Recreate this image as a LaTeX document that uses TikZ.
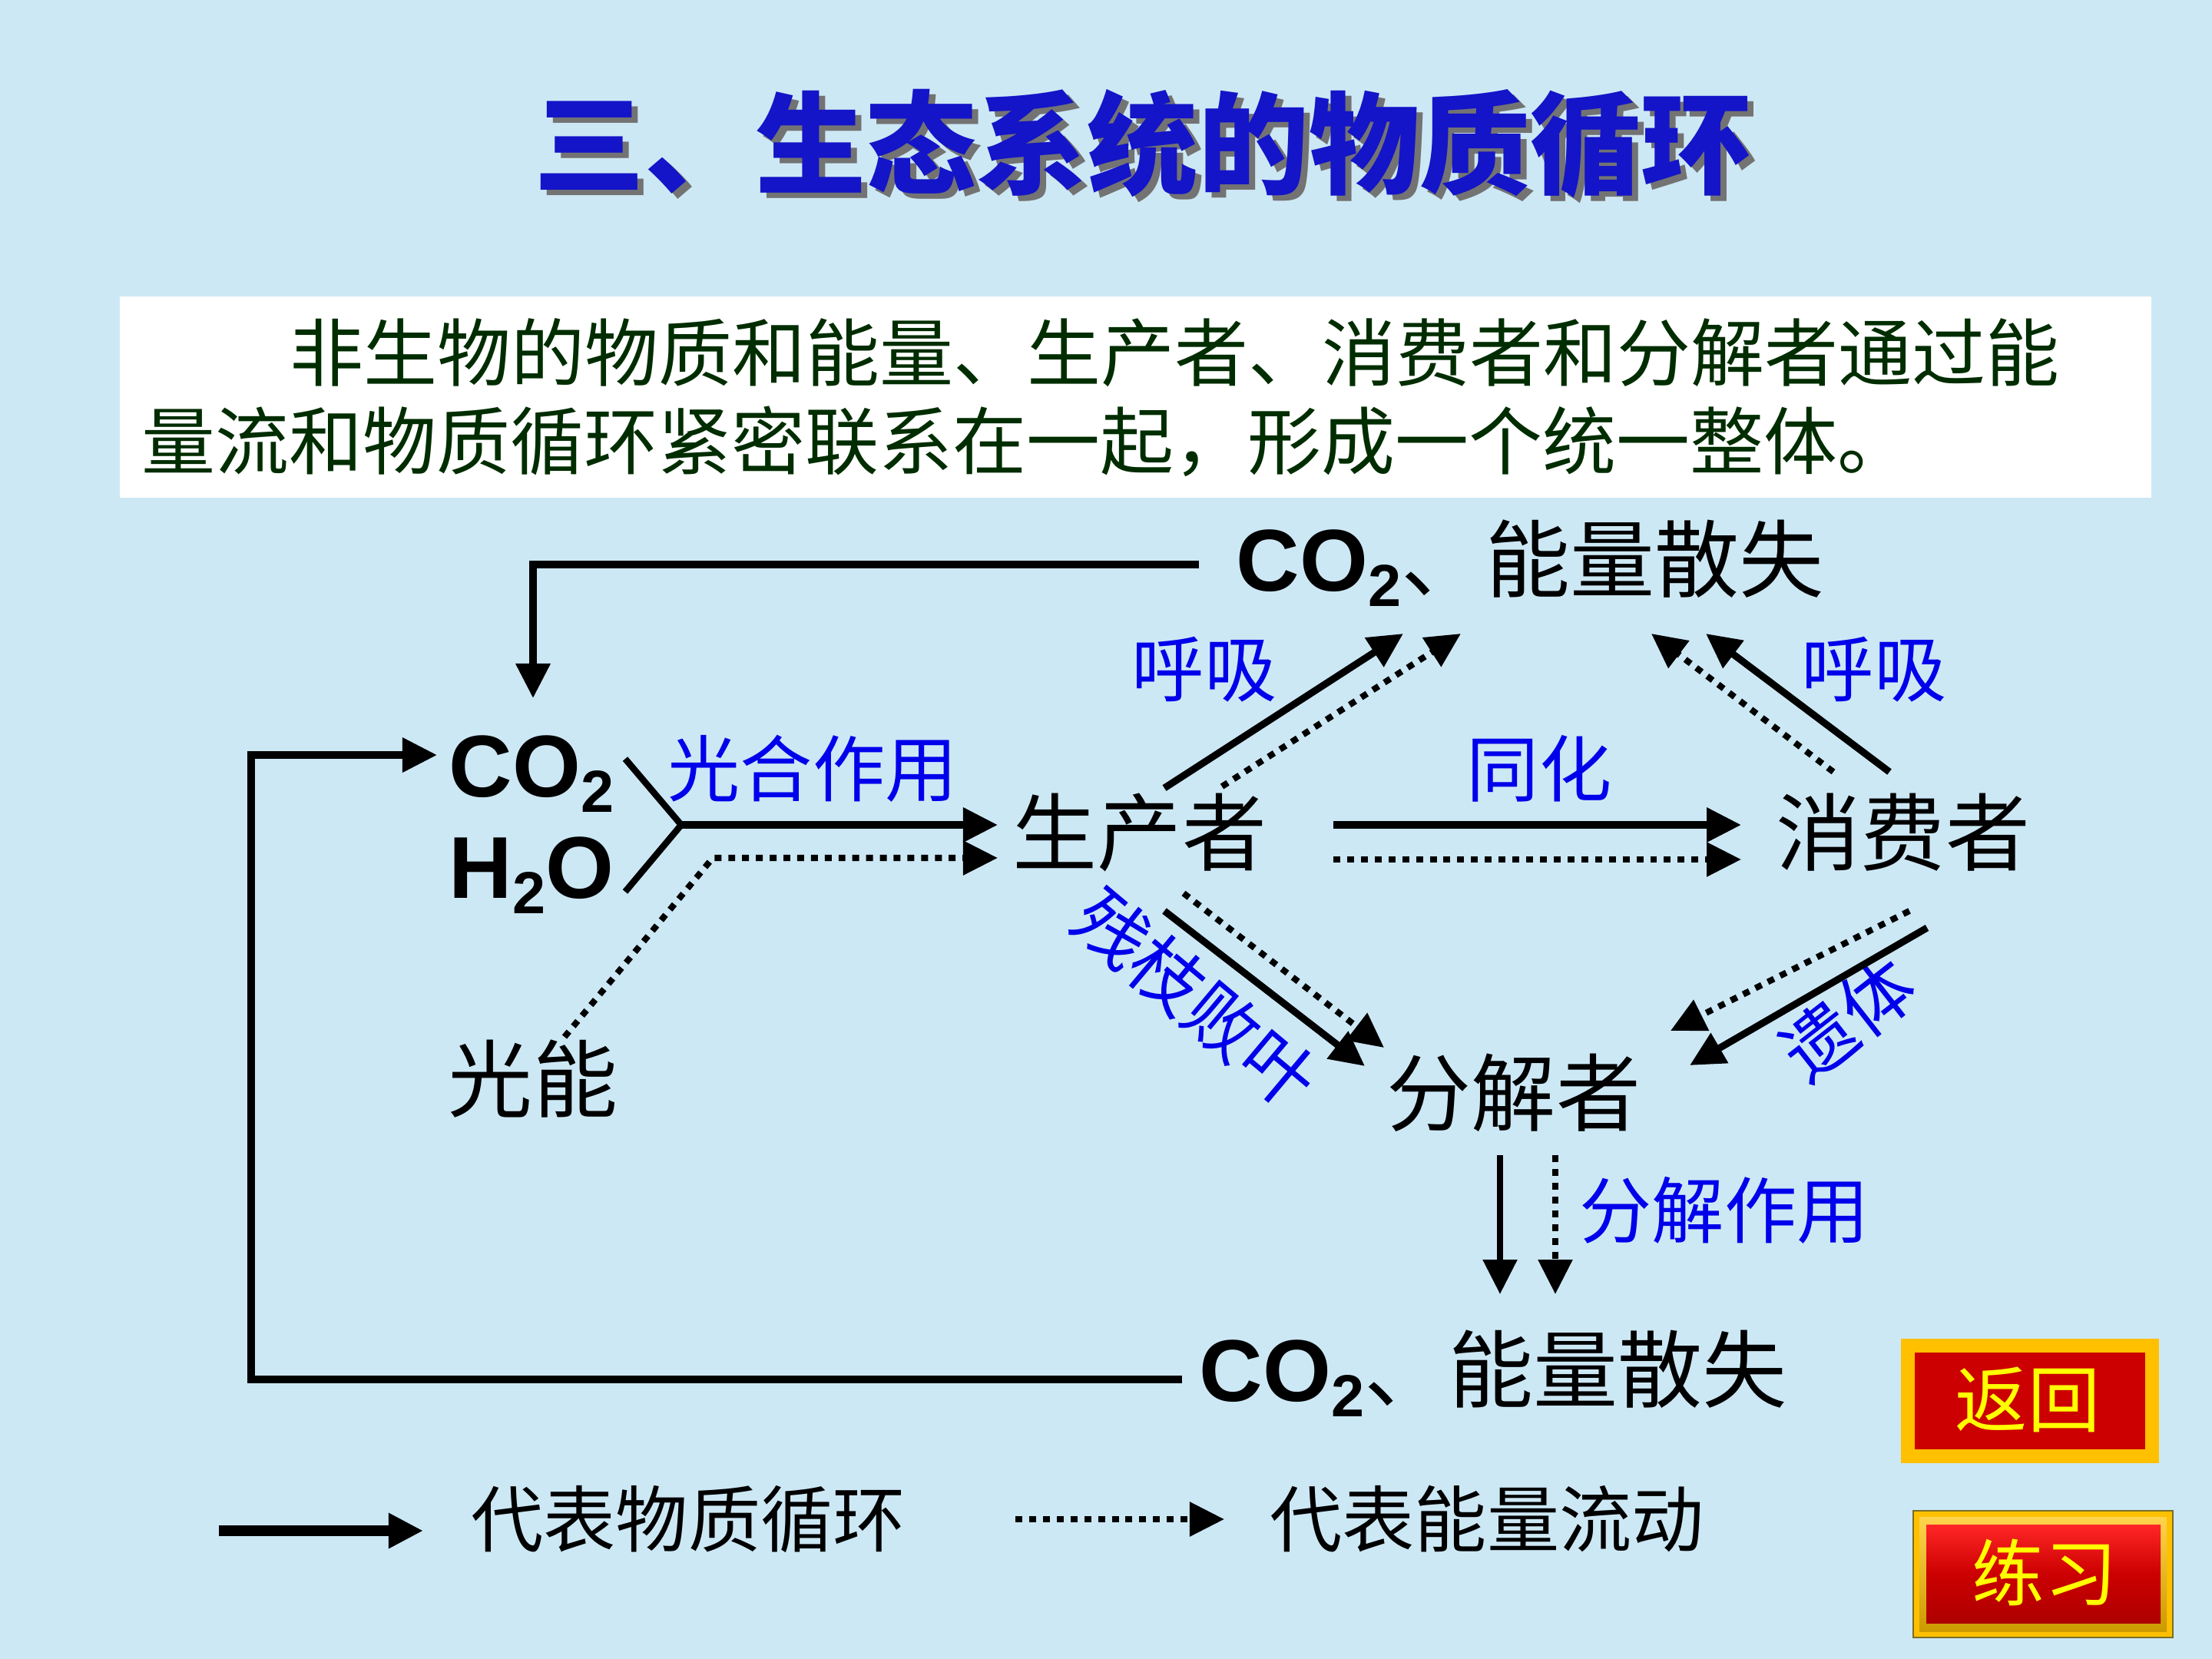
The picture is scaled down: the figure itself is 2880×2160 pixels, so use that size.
\documentclass[tikz,border=0pt]{standalone}
\usepackage{fontspec}
\setmainfont{Noto Sans CJK SC}
\newfontfamily\lsb{Liberation Sans}
\usetikzlibrary{arrows.meta}
\definecolor{bgblue}{RGB}{205,232,245}
\definecolor{titleblue}{RGB}{20,20,200}
\definecolor{lblue}{RGB}{0,0,235}
\definecolor{dkgreen}{RGB}{0,45,0}
\definecolor{btnyel}{RGB}{255,192,0}
\definecolor{btnred}{RGB}{204,0,0}
\definecolor{txtyel}{RGB}{255,255,0}
\definecolor{btnolive}{RGB}{120,110,40}
\newcommand\sizeB{\fontsize{31.3pt}{33pt}\selectfont}
\newcommand\sizeL{\fontsize{26.8pt}{28pt}\selectfont}
\newcommand\sizeT{\fontsize{27.3pt}{30pt}\selectfont}
\newcommand\sizeH{\fontsize{41pt}{44pt}\selectfont}
\newcommand\cotwo{{\lsb\bfseries\fontsize{32.5pt}{34pt}\selectfont CO\raisebox{-5.7pt}{\fontsize{22pt}{22pt}\selectfont 2}}}
\newcommand\htwoo{{\lsb\bfseries\fontsize{32.5pt}{34pt}\selectfont H\raisebox{-5.7pt}{\fontsize{22pt}{22pt}\selectfont 2}O}}
\tikzset{
  mat/.style={line width=2.6pt, -{Triangle[length=12.8pt,width=12.3pt]}},
  ene/.style={line width=2.3pt, dash pattern=on 2.55pt off 2.55pt, -{Triangle[length=12.8pt,width=12.3pt]}},
  plainline/.style={line width=2.4pt},
  lbl/.style={text=lblue, font=\sizeL, inner sep=0pt},
  big/.style={font=\sizeB, inner sep=0pt},
  legtext/.style={font=\sizeL, inner sep=0pt},
}
\begin{document}
\begin{tikzpicture}[x=0.01cm,y=-0.01cm]
\useasboundingbox (0,0) rectangle (2880,2160);
\fill[bgblue] (0,0) rectangle (2880,2160);

% title
\node[font=\sizeH\bfseries, text=black!55, inner sep=0pt] (titleS) at (1496,194) {三、生态系统的物质循环};
\node[font=\sizeH\bfseries, text=titleblue, inner sep=0pt] (title) at (1488,187) {三、生态系统的物质循环};

% text box
\fill[white] (156,386) rectangle (2801,648);
\node[font=\sizeT, text=dkgreen, anchor=west, inner sep=0pt] (line1) at (377,459) {非生物的物质和能量、生产者、消费者和分解者通过能};
\node[font=\sizeT, text=dkgreen, anchor=west, inner sep=0pt] (line2) at (184,575) {量流和物质循环紧密联系在一起，形成一个统一整体。};

% main nodes
\node[anchor=base west, inner sep=0pt] (topco) at (1609,769) {\cotwo{\sizeB 、能量散失}};
\node[anchor=base west, inner sep=0pt] (botco) at (1561,1824) {\cotwo{\sizeB 、能量散失}};
\node[anchor=base west, inner sep=0pt] (co2) at (584,1037) {\cotwo};
\node[anchor=base west, inner sep=0pt] (h2o) at (584,1169) {\htwoo};
\node[big] (guang) at (694,1405) {光能};
\node[big] (prod) at (1484,1084) {生产者};
\node[big] (cons) at (2478,1084) {消费者};
\node[big] (dec) at (1971,1423) {分解者};

% labels
\node[lbl] (lphoto) at (1058,1001) {光合作用};
\node[lbl] (lresp1) at (1568,872) {呼吸};
\node[lbl] (lresp2) at (2440,872) {呼吸};
\node[lbl] (lassim) at (2004,1001) {同化};
\node[lbl] (ldecomp) at (2245,1576) {分解作用};
\node[lbl, rotate=-40] (llitter) at (1557,1300) {残枝败叶};
\node[lbl, rotate=38] (lremain) at (2406,1326) {遗体};

% coordinates
\coordinate (a1) at (1561,735);
\coordinate (a2) at (694,909);
\coordinate (b1) at (1539,1796);
\coordinate (b2) at (327,983);
\coordinate (b3) at (569,983);
\coordinate (k1) at (814,988);
\coordinate (k0) at (887,1074);
\coordinate (k2) at (814,1161);
\coordinate (p1) at (1299,1074);
\coordinate (g0) at (735,1350);
\coordinate (g1) at (928,1117);
\coordinate (p2) at (1299,1117);
\coordinate (r1s) at (1516,1026); \coordinate (r1e) at (1827,825);
\coordinate (r2s) at (1591,1024); \coordinate (r2e) at (1902,825);
\coordinate (r3s) at (2460,1005); \coordinate (r3e) at (2221,825);
\coordinate (r4s) at (2387,1005); \coordinate (r4e) at (2150,825);
\coordinate (s1s) at (1736,1074); \coordinate (s1e) at (2267,1074);
\coordinate (s2s) at (1736,1119); \coordinate (s2e) at (2267,1119);
\coordinate (d1s) at (1516,1186); \coordinate (d1e) at (1777,1388);
\coordinate (d2s) at (1541,1163); \coordinate (d2e) at (1802,1364);
\coordinate (c1s) at (2509,1208); \coordinate (c1e) at (2200,1387);
\coordinate (c2s) at (2486,1186); \coordinate (c2e) at (2175,1342);
\coordinate (e1s) at (1953,1504); \coordinate (e1e) at (1953,1685);
\coordinate (e2s) at (2025,1504); \coordinate (e2e) at (2025,1685);

% connectors
\draw[mat] (a1) -| (a2);
\draw[mat] (b1) -| (b2) -- (b3);
\draw[plainline] (k1) -- (k0) -- (k2);
\draw[mat] (k0) -- (p1);
\draw[ene] (g0) -- (g1) -- (p2);
\draw[mat] (r1s) -- (r1e);
\draw[ene] (r2s) -- (r2e);
\draw[mat] (r3s) -- (r3e);
\draw[ene] (r4s) -- (r4e);
\draw[mat] (s1s) -- (s1e);
\draw[ene] (s2s) -- (s2e);
\draw[mat] (d1s) -- (d1e);
\draw[ene] (d2s) -- (d2e);
\draw[mat] (c1s) -- (c1e);
\draw[ene] (c2s) -- (c2e);
\draw[mat, line width=2.3pt] (e1s) -- (e1e);
\draw[ene] (e2s) -- (e2e);

% legend
\coordinate (l1s) at (285,1993); \coordinate (l1e) at (551,1993);
\coordinate (l2s) at (1322,1978); \coordinate (l2e) at (1594,1978);
\draw[mat, line width=4pt] (l1s) -- (l1e);
\draw[ene] (l2s) -- (l2e);
\node[legtext] (leg1) at (896,1978) {代表物质循环};
\node[legtext] (leg2) at (1936,1978) {代表能量流动};

% buttons
\fill[btnyel] (2475,1743) rectangle (2811,1905);
\fill[btnred] (2493,1761) rectangle (2793,1887);
\node[font=\sizeL, text=txtyel, inner sep=0pt] (back) at (2640,1822) {返回};
\fill[btnyel, draw=btnolive, line width=0.8pt] (2491,1967) rectangle (2829,2132);
\shade[top color=btnyel!70!white, bottom color=btnyel!80!black] (2499,1975) rectangle (2821,2124);
\shade[top color=red!85!white, bottom color=btnred!85!black, middle color=btnred] (2508,1985) rectangle (2813,2113);
\node[font=\sizeL, text=txtyel, inner sep=0pt] (prac) at (2662,2047) {练习};
\end{tikzpicture}
\end{document}
